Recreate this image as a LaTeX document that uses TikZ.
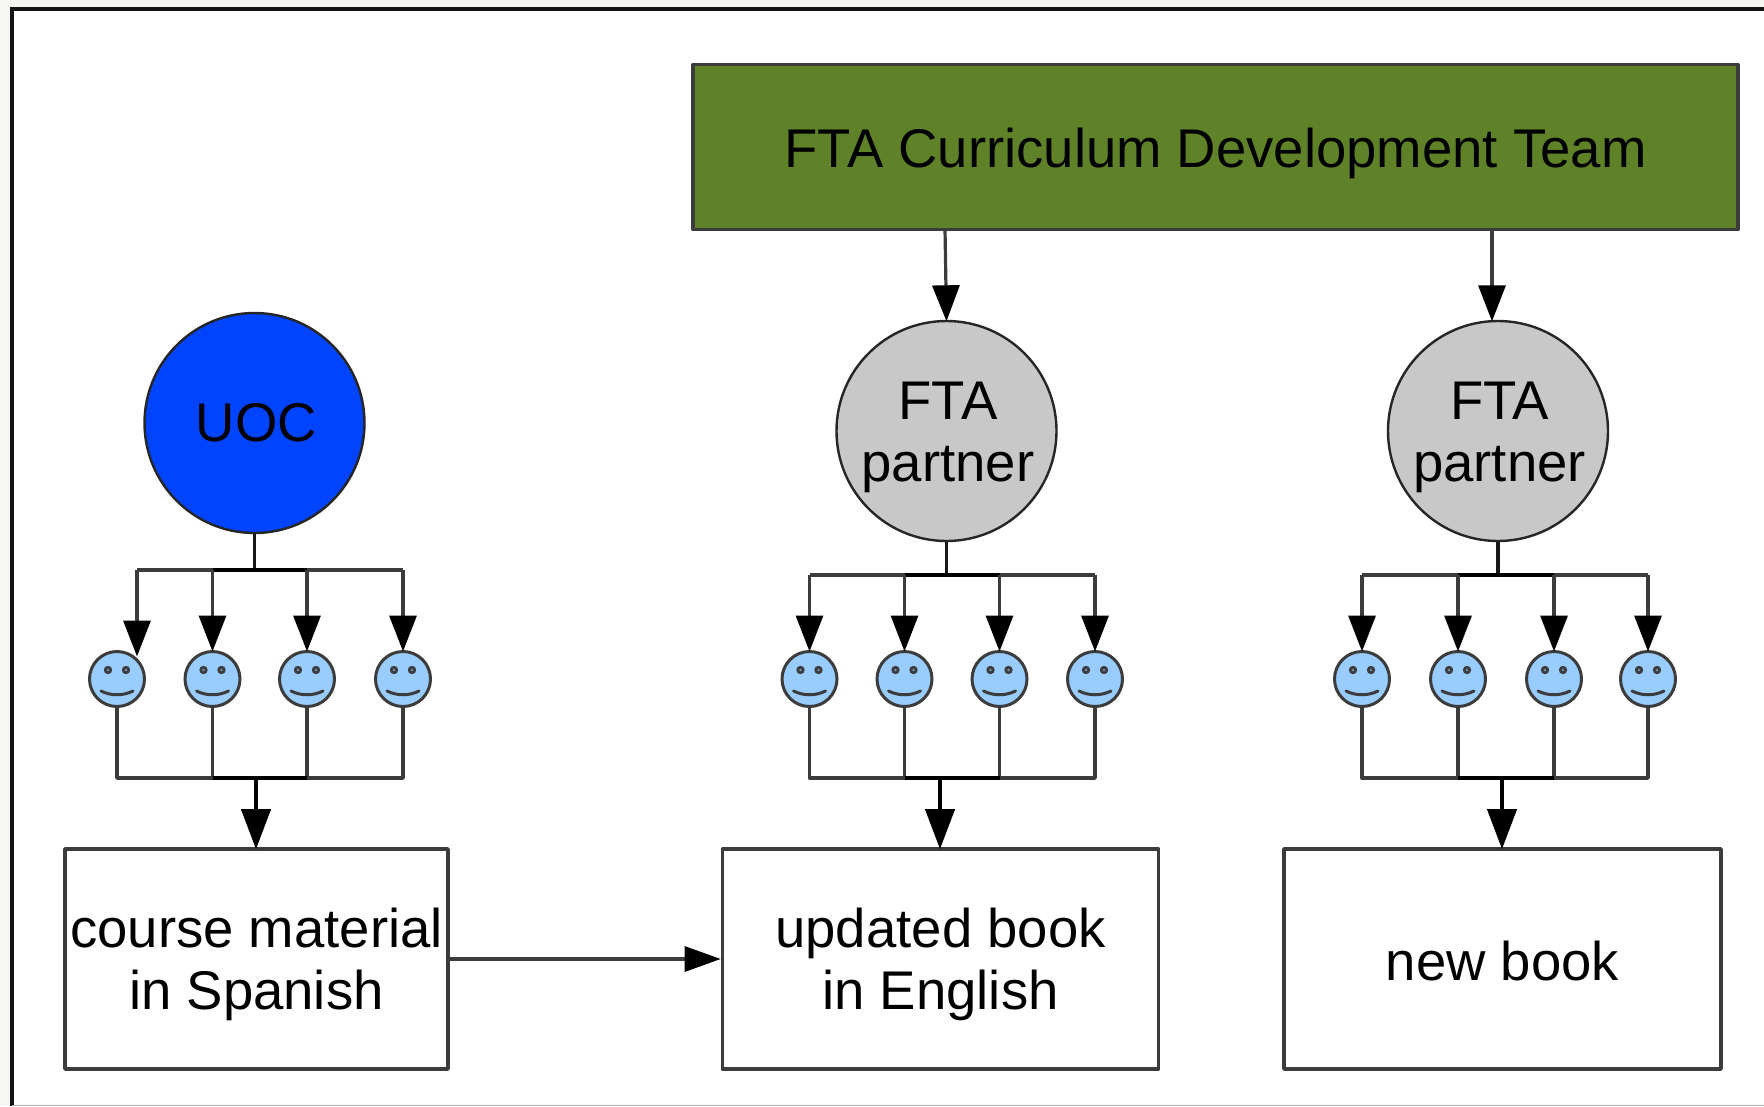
\documentclass[tikz,border=0pt]{standalone}
\usepackage{fontspec}
\setmainfont{Liberation Sans}
\usetikzlibrary{arrows.meta}
\definecolor{pagegrey}{HTML}{F6F7F3}
\definecolor{teamgreen}{HTML}{5F8228}
\definecolor{uocblue}{HTML}{0044FF}
\definecolor{partnergrey}{HTML}{C8C8C8}
\definecolor{faceblue}{HTML}{99CCFF}
\definecolor{linegrey}{HTML}{3C3C3C}
\tikzset{
  x=1bp,y=-1bp,
  label text/.style={font=\fontsize{54.7}{62}\selectfont,text=black,align=center,inner sep=0pt},
  two lines/.style={text height=113bp,text depth=11.5bp},
  boxnode/.style={label text,draw=linegrey,line width=3.6bp,rectangle,fill=white,line join=round},
  bignode/.style={label text,draw=black!85,line width=2.4bp,circle,minimum size=220bp},
  smiley/.style={draw=linegrey,line width=3bp,circle,fill=faceblue,minimum size=55bp,inner sep=0pt},
  bus/.style={draw=linegrey,line width=3.4bp,line join=round},
  busmid/.style={draw=black,line width=3.8bp},
  stem/.style={draw=black!90,line width=3.8bp},
  arrowline/.style={draw=linegrey,line width=3.2bp,shorten >=-1.5bp,-{Triangle[length=36bp,width=27bp,color=black]}},
  arrowbig/.style={draw=black,line width=4.2bp,shorten >=-2bp,-{Triangle[length=40bp,width=29bp,color=black]}},
  arrowlong/.style={draw=linegrey,line width=3.2bp,-{Triangle[length=36bp,width=25bp,color=black]}},
}
\newcommand{\smileyface}[3]{%
  \node[smiley] (#1) at (#2,#3) {};
  \fill[linegrey] ([shift={(-9,-9)}]#1.center) circle (4.2bp);
  \fill[linegrey] ([shift={(9,-9)}]#1.center) circle (4.2bp);
  \fill[faceblue!60!linegrey] ([shift={(-9,-9)}]#1.center) circle (1.4bp);
  \fill[faceblue!60!linegrey] ([shift={(9,-9)}]#1.center) circle (1.4bp);
  \draw[linegrey,line width=3bp,line cap=round] ([shift={(-16,12)}]#1.center) .. controls ([shift={(-6,17)}]#1.center) and ([shift={(6,17)}]#1.center) .. ([shift={(16,12)}]#1.center);
}
\begin{document}
\begin{tikzpicture}
\useasboundingbox (0,0) rectangle (1764,1106);
\clip (0,0) rectangle (1764,1106);
% page and frame
\fill[pagegrey] (0,0) rectangle (1764,1106);
\fill[white] (12,9) rectangle (1770,1104);
\draw[black!92,line width=4bp] (12,1106) -- (12,9) -- (1770,9);
\draw[black!30,line width=1bp] (12,1105.5) -- (1764,1105.5);

% main nodes
\node[boxnode,fill=teamgreen,minimum width=1045bp,minimum height=165bp,text height=53bp,text depth=11.5bp] (team) at (1215.5,147) {FTA Curriculum Development Team};
\node[bignode,fill=uocblue] (uoc) at (254.5,423) {\hspace*{4bp}UOC};
\node[bignode,fill=partnergrey,two lines] (p1) at (946.5,431) {\hspace*{3bp}FTA\\\hspace*{3bp}partner};
\node[bignode,fill=partnergrey,two lines] (p2) at (1498,431) {\hspace*{3bp}FTA\\\hspace*{3bp}partner};
\node[boxnode,minimum width=383bp,minimum height=220bp,two lines] (b1) at (256.5,959) {course material\\in Spanish};
\node[boxnode,minimum width=436bp,minimum height=220bp,two lines] (b2) at (940.5,959) {updated book\\in English};
\node[boxnode,minimum width=437bp,minimum height=220bp,text height=44bp,text depth=0.5bp] (b3) at (1502.5,959) {new book};

% smileys
\smileyface{a1}{117}{679}
\smileyface{a2}{212.5}{679}
\smileyface{a3}{307}{679}
\smileyface{a4}{403}{679}
\smileyface{c1}{809.5}{679}
\smileyface{c2}{904.5}{679}
\smileyface{c3}{999.5}{679}
\smileyface{c4}{1095}{679}
\smileyface{d1}{1362}{679}
\smileyface{d2}{1458}{679}
\smileyface{d3}{1554}{679}
\smileyface{d4}{1648}{679}

% junction coordinates
\coordinate (ua) at (137,570);
\coordinate (ub) at (212.5,570);
\coordinate (uc) at (307,570);
\coordinate (ud) at (403,570);
\coordinate (ut) at (254.5,570);
\coordinate (uatip) at (137,655);
\coordinate (la) at (117,778);
\coordinate (lb) at (212.5,778);
\coordinate (lc) at (307,778);
\coordinate (ld) at (403,778);
\coordinate (lt) at (256,778);

\coordinate (pa) at (809.5,575);
\coordinate (pb) at (904.5,575);
\coordinate (pc) at (999.5,575);
\coordinate (pd) at (1095,575);
\coordinate (pt) at (946.5,575);
\coordinate (ma) at (809.5,778);
\coordinate (mb) at (904.5,778);
\coordinate (mc) at (999.5,778);
\coordinate (md) at (1095,778);
\coordinate (mt) at (940,778);

\coordinate (qa) at (1362,575);
\coordinate (qb) at (1458,575);
\coordinate (qc) at (1554,575);
\coordinate (qd) at (1648,575);
\coordinate (qt) at (1498,575);
\coordinate (na) at (1362,778);
\coordinate (nb) at (1458,778);
\coordinate (nc) at (1554,778);
\coordinate (nd) at (1648,778);
\coordinate (nt) at (1502,778);

% team to partners
\coordinate (t1) at (945,229);
\coordinate (t2) at (1492,229);
\draw[arrowline] (t1) -- (p1.north);
\draw[arrowline] (t2) -- (t2 |- p2.north);

% UOC group
\draw[stem] (uoc.south) -- (ut);
\draw[bus] (ua) -- (ud);
\draw[busmid] (ub) -- (uc);
\draw[arrowline] (ua) -- (uatip);
\draw[arrowline] (ub) -- (a2.north);
\draw[arrowline] (uc) -- (a3.north);
\draw[arrowline] (ud) -- (a4.north);
\draw[bus] (a1.south) -- (la) -- (ld) -- (a4.south);
\draw[bus] (a2.south) -- (lb);
\draw[bus] (a3.south) -- (lc);
\draw[busmid] (lb) -- (lc);
\draw[arrowbig] (lt) -- (lt |- b1.north);

% first partner group
\draw[stem] (p1.south) -- (pt);
\draw[bus] (pa) -- (pd);
\draw[busmid] (pb) -- (pc);
\draw[arrowline] (pa) -- (c1.north);
\draw[arrowline] (pb) -- (c2.north);
\draw[arrowline] (pc) -- (c3.north);
\draw[arrowline] (pd) -- (c4.north);
\draw[bus] (c1.south) -- (ma) -- (md) -- (c4.south);
\draw[bus] (c2.south) -- (mb);
\draw[bus] (c3.south) -- (mc);
\draw[busmid] (mb) -- (mc);
\draw[arrowbig] (mt) -- (mt |- b2.north);

% second partner group
\draw[stem] (p2.south) -- (qt);
\draw[bus] (qa) -- (qd);
\draw[busmid] (qb) -- (qc);
\draw[arrowline] (qa) -- (d1.north);
\draw[arrowline] (qb) -- (d2.north);
\draw[arrowline] (qc) -- (d3.north);
\draw[arrowline] (qd) -- (d4.north);
\draw[bus] (d1.south) -- (na) -- (nd) -- (d4.south);
\draw[bus] (d2.south) -- (nb);
\draw[bus] (d3.south) -- (nc);
\draw[busmid] (nb) -- (nc);
\draw[arrowbig] (nt) -- (nt |- b3.north);

% book to book
\draw[arrowlong] (b1.east) -- (b2.west);
\end{tikzpicture}
\end{document}
